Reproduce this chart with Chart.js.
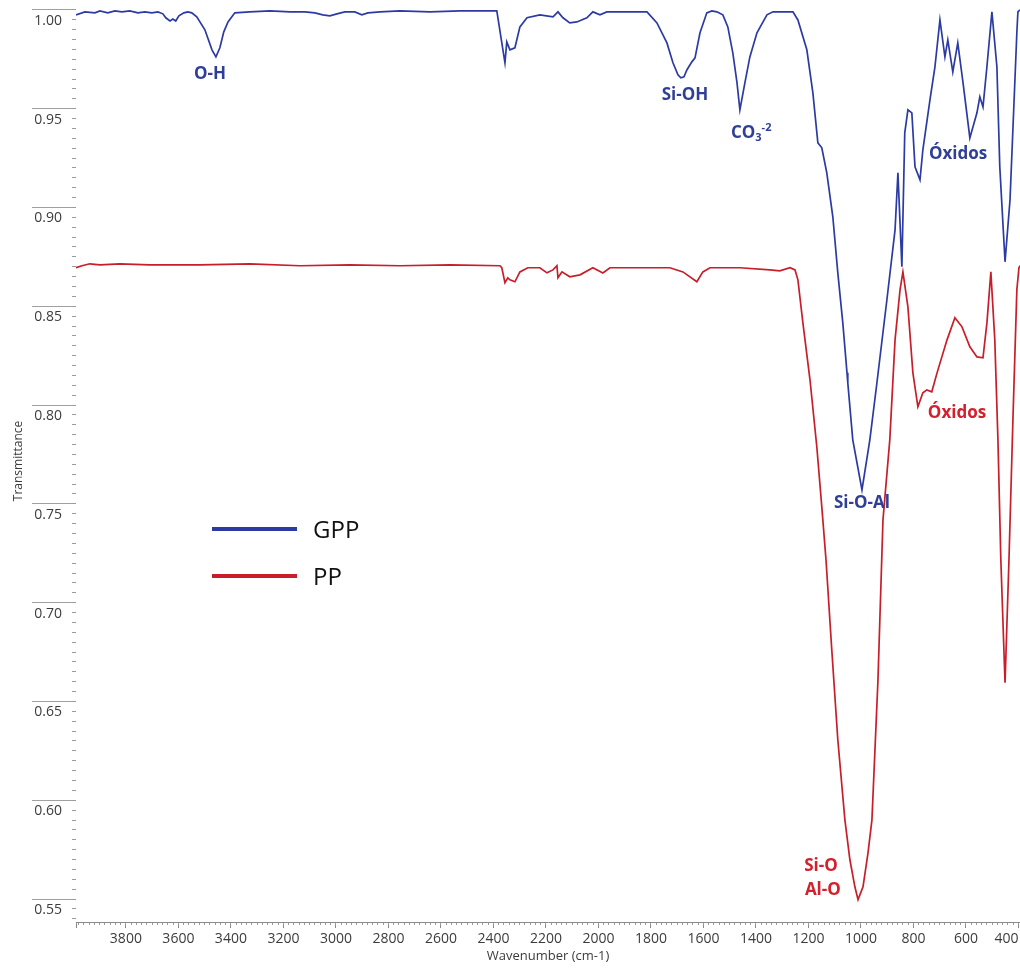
<!DOCTYPE html>
<html lang="es">
<head>
<meta charset="utf-8">
<title>FTIR GPP / PP</title>
<script src="https://cdn.jsdelivr.net/npm/chart.js@4.4.1/dist/chart.umd.min.js"></script>
<style>
  body { margin: 0; background: #fff; }
  #contenedor { position: relative; width: 1020px; height: 968px; }
  #leyenda { position: absolute; left: 212px; top: 505px; font-family: "Open Sans", sans-serif; font-size: 24px; color: #111; }
  .fila { display: flex; align-items: center; height: 47px; }
  .linea { width: 85px; height: 4px; margin-right: 16px; }
</style>
</head>
<body>
<div id="contenedor">
  <canvas id="grafico"></canvas>
  <div id="leyenda"></div>
</div>
<script>
// espectros [numero de onda cm-1, transmitancia]
const espectroGPP = [
  [3990, 0.9975], [3956, 0.9990], [3918, 0.9985], [3899, 0.9995], [3869, 0.9985], [3842, 0.9995],
  [3815, 0.9990], [3785, 0.9995], [3754, 0.9985], [3728, 0.9990], [3701, 0.9985], [3678, 0.9990],
  [3659, 0.9980], [3648, 0.9960], [3632, 0.9944], [3621, 0.9954], [3610, 0.9944], [3598, 0.9970],
  [3579, 0.9985], [3564, 0.9990], [3549, 0.9985], [3530, 0.9965], [3499, 0.9899], [3472, 0.9798],
  [3457, 0.9762], [3442, 0.9808], [3427, 0.9889], [3411, 0.9939], [3385, 0.9985], [3328, 0.9990],
  [3251, 0.9995], [3175, 0.9990], [3118, 0.9990], [3080, 0.9985], [3050, 0.9975], [3023, 0.9970],
  [2996, 0.9980], [2966, 0.9990], [2928, 0.9990], [2901, 0.9975], [2878, 0.9985], [2832, 0.9990],
  [2756, 0.9995], [2642, 0.9990], [2528, 0.9995], [2387, 0.9995], [2356, 0.9732], [2349, 0.9838],
  [2337, 0.9798], [2318, 0.9808], [2299, 0.9914], [2272, 0.9960], [2223, 0.9975], [2173, 0.9965],
  [2154, 0.9990], [2135, 0.9960], [2109, 0.9934], [2082, 0.9939], [2044, 0.9960], [2021, 0.9990],
  [1994, 0.9975], [1968, 0.9990], [1869, 0.9990], [1815, 0.9990], [1777, 0.9934], [1739, 0.9833],
  [1716, 0.9732], [1697, 0.9671], [1686, 0.9656], [1674, 0.9661], [1663, 0.9696], [1644, 0.9737],
  [1632, 0.9757], [1613, 0.9884], [1587, 0.9985], [1568, 0.9995], [1549, 0.9990], [1526, 0.9975],
  [1507, 0.9914], [1488, 0.9782], [1472, 0.9631], [1461, 0.9494], [1442, 0.9631], [1423, 0.9762],
  [1396, 0.9884], [1358, 0.9975], [1335, 0.9990], [1259, 0.9990], [1240, 0.9949], [1206, 0.9798],
  [1183, 0.9580], [1164, 0.9327], [1149, 0.9302], [1130, 0.9175], [1107, 0.8953], [1088, 0.8669],
  [1069, 0.8416], [1053, 0.8163], [1050, 0.8113], [1031, 0.7824], [996, 0.7571], [966, 0.7824],
  [939, 0.8113], [901, 0.8533], [870, 0.8887], [859, 0.9175], [844, 0.8700], [833, 0.9378],
  [821, 0.9494], [806, 0.9479], [794, 0.9206], [775, 0.9140], [764, 0.9292], [737, 0.9545],
  [718, 0.9712], [699, 0.9949], [680, 0.9762], [669, 0.9848], [650, 0.9686], [631, 0.9833],
  [611, 0.9631], [585, 0.9352], [558, 0.9479], [547, 0.9560], [535, 0.9509], [520, 0.9712],
  [501, 0.9990], [482, 0.9712], [471, 0.9206], [451, 0.8725], [432, 0.9039], [406, 0.9884],
  [402, 0.9990], [394, 1.0000]
];

const espectroPP = [
  [3990, 0.8695], [3967, 0.8705], [3937, 0.8715], [3899, 0.8710], [3823, 0.8715], [3709, 0.8710],
  [3518, 0.8710], [3328, 0.8715], [3137, 0.8705], [2947, 0.8710], [2756, 0.8705], [2566, 0.8710],
  [2375, 0.8705], [2368, 0.8695], [2356, 0.8619], [2345, 0.8644], [2337, 0.8634], [2318, 0.8624],
  [2299, 0.8674], [2269, 0.8695], [2223, 0.8695], [2196, 0.8669], [2173, 0.8684], [2158, 0.8705],
  [2154, 0.8644], [2139, 0.8674], [2109, 0.8649], [2070, 0.8659], [2021, 0.8695], [1983, 0.8669],
  [1956, 0.8695], [1842, 0.8695], [1728, 0.8695], [1678, 0.8674], [1625, 0.8624], [1602, 0.8674],
  [1575, 0.8695], [1461, 0.8695], [1347, 0.8684], [1309, 0.8679], [1270, 0.8695], [1251, 0.8684],
  [1240, 0.8634], [1221, 0.8416], [1194, 0.8128], [1168, 0.7789], [1149, 0.7485], [1133, 0.7217],
  [1111, 0.6762], [1088, 0.6306], [1061, 0.5901], [1042, 0.5699], [1023, 0.5562], [1011, 0.5497],
  [992, 0.5562], [973, 0.5734], [958, 0.5901], [935, 0.6610], [916, 0.7419], [890, 0.7824],
  [870, 0.8330], [851, 0.8583], [840, 0.8674], [821, 0.8497], [802, 0.8163], [783, 0.7991],
  [764, 0.8062], [749, 0.8077], [730, 0.8067], [710, 0.8163], [672, 0.8330], [642, 0.8442],
  [615, 0.8396], [585, 0.8295], [558, 0.8244], [535, 0.8239], [520, 0.8416], [505, 0.8674],
  [490, 0.8330], [478, 0.7824], [467, 0.7217], [451, 0.6595], [436, 0.7217], [421, 0.7925],
  [406, 0.8583], [398, 0.8695], [394, 0.8705]
];

const ticksX = [400, 600, 800, 1000, 1200, 1400, 1600, 1800, 2000, 2200, 2400, 2600, 2800, 3000, 3200, 3400, 3600, 3800];
const ticksY = [0.55, 0.60, 0.65, 0.70, 0.75, 0.80, 0.85, 0.90, 0.95, 1.00];

// etiquetas de bandas: texto, numero de onda, transmitancia
const bandas = [
  { texto: 'O-H', wn: 3480, t: 0.9676, color: '#2f3f98' },
  { texto: 'Si-OH', wn: 1670, t: 0.9570, color: '#2f3f98' },
  { texto: 'CO', sub: '3', sup: '-2', wn: 1495, t: 0.9378, color: '#2f3f98', align: 'left' },
  { texto: 'Óxidos', wn: 630, t: 0.9271, color: '#2f3f98' },
  { texto: 'Si-O-Al', wn: 996, t: 0.7505, color: '#2f3f98' },
  { texto: 'Óxidos', wn: 634, t: 0.7961, color: '#d4202c' },
  { texto: 'Si-O', wn: 1152, t: 0.5669, color: '#d4202c' },
  { texto: 'Al-O', wn: 1145, t: 0.5547, color: '#d4202c' }
];

const minX = 394, maxX = 3990;
const minY = 0.5384, maxY = 1.005;

const minorX = [];
for (let v = 400; v < maxX; v += 20) minorX.push(v);
const minorY = [];
for (let k = 108; k <= 201; k++) minorY.push(k * 0.005);

const fuente = '"Open Sans", sans-serif';

const bandasPlugin = {
  id: 'bandas',
  afterDatasetsDraw(chart) {
    const { ctx, scales } = chart;
    ctx.save();
    ctx.textBaseline = 'middle';
    bandas.forEach(b => {
      const px = scales.x.getPixelForValue(b.wn);
      const py = scales.y.getPixelForValue(b.t);
      ctx.fillStyle = b.color;
      ctx.font = 'bold 17px ' + fuente;
      ctx.textAlign = b.align || 'center';
      ctx.fillText(b.texto, px, py);
      if (b.sub) {
        const w = ctx.measureText(b.texto).width;
        ctx.font = 'bold 11px ' + fuente;
        ctx.textAlign = 'left';
        ctx.fillText(b.sub, px + w, py + 5.5);
        const ws = ctx.measureText(b.sub).width;
        ctx.fillText(b.sup, px + w + ws, py - 4.5);
      }
    });
    ctx.restore();
  }
};

const ctx = document.getElementById('grafico').getContext('2d');
const grafico = new Chart(ctx, {
  type: 'line',
  data: {
    datasets: [
      {
        label: 'GPP',
        data: espectroGPP.map(p => ({ x: p[0], y: p[1] })),
        borderColor: '#2b3ba3',
        borderWidth: 1.7,
        pointRadius: 0,
        tension: 0
      },
      {
        label: 'PP',
        data: espectroPP.map(p => ({ x: p[0], y: p[1] })),
        borderColor: '#c81e2a',
        borderWidth: 1.7,
        pointRadius: 0,
        tension: 0
      }
    ]
  },
  options: {
    responsive: true,
    maintainAspectRatio: false,
    animation: false,
    layout: { padding: 0 },
    plugins: {
      legend: { display: false },
      tooltip: { enabled: false }
    },
    scales: {
      x: {
        type: 'linear',
        position: 'bottom',
        reverse: true,
        min: minX,
        max: maxX,
        weight: 1,
        afterBuildTicks: s => { s.ticks = ticksX.concat([maxX]).map(v => ({ value: v })); },
        afterFit: s => { s.height = 46; },
        grid: { drawOnChartArea: false, tickLength: 6, tickColor: '#8a8a8a' },
        border: { display: true, color: '#8a8a8a' },
        ticks: {
          autoSkip: false,
          maxRotation: 0,
          align: 'inner',
          padding: 3,
          color: '#3c3c3c',
          font: { family: fuente, size: 14 },
          callback: v => ticksX.includes(v) ? String(v) : ''
        },
        title: {
          display: true,
          text: 'Wavenumber (cm-1)',
          color: '#3c3c3c',
          font: { family: fuente, size: 13 },
          padding: { top: 0, bottom: 4 }
        }
      },
      xMenor: {
        type: 'linear',
        position: 'bottom',
        reverse: true,
        min: minX,
        max: maxX,
        weight: 0,
        afterBuildTicks: s => { s.ticks = minorX.map(v => ({ value: v })); },
        afterFit: s => { s.height = 0; },
        grid: { drawOnChartArea: false, tickLength: 3, tickColor: '#9a9a9a' },
        border: { display: false },
        ticks: { display: false }
      },
      y: {
        type: 'linear',
        position: 'left',
        min: minY,
        max: maxY,
        weight: 1,
        afterBuildTicks: s => { s.ticks = ticksY.map(v => ({ value: v })); },
        afterFit: s => { s.width = 76; },
        grid: { drawOnChartArea: false, tickLength: 44, tickColor: '#a0a0a0' },
        border: { display: false },
        ticks: {
          autoSkip: false,
          padding: -30,
          labelOffset: 11,
          color: '#3c3c3c',
          font: { family: fuente, size: 14 },
          callback: v => v.toFixed(2)
        },
        title: {
          display: true,
          text: 'Transmittance',
          color: '#3c3c3c',
          font: { family: fuente, size: 12 },
          padding: { top: 11, bottom: 0 }
        }
      },
      yMenor: {
        type: 'linear',
        position: 'left',
        min: minY,
        max: maxY,
        weight: 0,
        afterBuildTicks: s => { s.ticks = minorY.map(v => ({ value: v })); },
        afterFit: s => { s.width = 0; },
        grid: { drawOnChartArea: false, tickLength: 4, tickColor: '#9a9a9a' },
        border: { display: false },
        ticks: { display: false }
      }
    }
  },
  plugins: [bandasPlugin]
});

// leyenda con las series del grafico
document.getElementById('leyenda').innerHTML = grafico.data.datasets.map(d =>
  `<div class="fila"><span class="linea" style="background:${d.borderColor}"></span>${d.label}</div>`
).join('');
</script>
</body>
</html>
